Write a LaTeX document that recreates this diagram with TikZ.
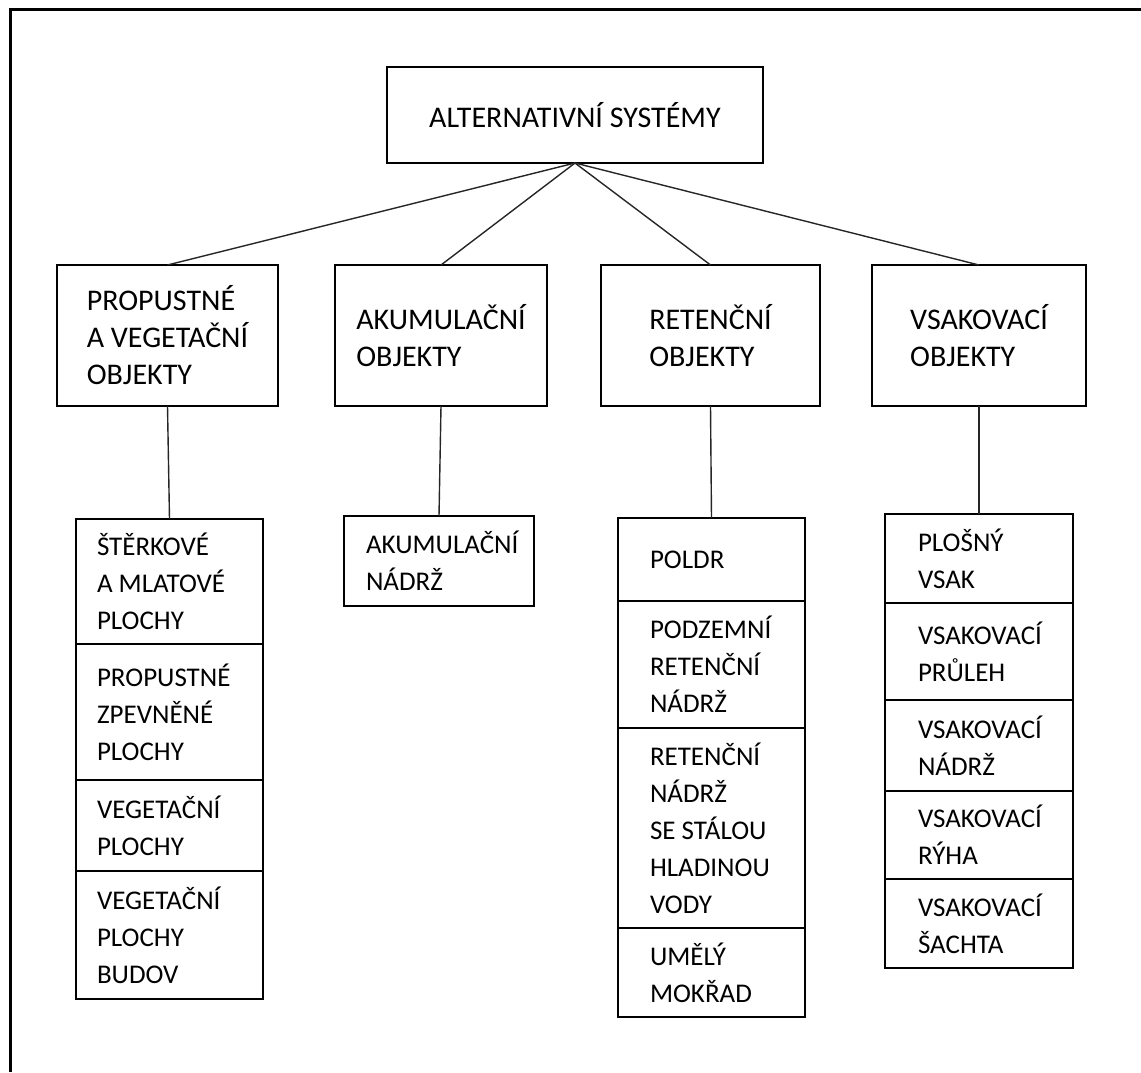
\documentclass[tikz,border=0pt]{standalone}
\usepackage{fontspec}
\setmainfont{Carlito}
\usepackage{tikz}
\usetikzlibrary{positioning}

\tikzset{
  box/.style={draw, line width=2.2pt, outer sep=0pt, anchor=north west, align=left, font=\fontsize{30}{37}\selectfont},
  leaf/.style 2 args={draw, line width=2.2pt, outer sep=0pt, inner xsep=0pt, inner ysep=0pt, text width=#1, minimum height=#2, align=flush left, font=\fontsize{27}{37}\selectfont},
  lpad/.style={execute at begin node={\leftskip=#1\relax}},
  link/.style={line width=1.4pt, draw=black!85}
}

\begin{document}
\begin{tikzpicture}[x=1pt, y=-1pt]
\useasboundingbox (0,0) rectangle (1141,1072);
\draw[line width=3pt] (10,1072) -- (10,9) -- (1141,9);

\node[box, align=center, minimum width=376pt, minimum height=96pt] (root) at (387,67) {ALTERNATIVNÍ SYSTÉMY};

\node[box, minimum width=221pt, minimum height=141pt] (p1) at (57,265) {PROPUSTNÉ\\A VEGETAČNÍ\\OBJEKTY};
\node[box, minimum width=212pt, minimum height=141pt] (p2) at (335,265) {AKUMULAČNÍ\\OBJEKTY};
\node[box, minimum width=219pt, minimum height=141pt] (p3) at (601,265) {RETENČNÍ\\OBJEKTY};
\node[box, minimum width=214pt, minimum height=141pt] (p4) at (872,265) {VSAKOVACÍ\\OBJEKTY};

% propustne a vegetacni
\node[leaf={187pt}{125pt}, lpad=21pt, anchor=north west] (s1a) at (76,519) {ŠTĚRKOVÉ\\A MLATOVÉ\\PLOCHY};
\node[leaf={187pt}{136pt}, lpad=21pt, below=0pt of s1a] (s1b) {PROPUSTNÉ\\ZPEVNĚNÉ\\PLOCHY};
\node[leaf={187pt}{91pt}, lpad=21pt, below=0pt of s1b] (s1c) {VEGETAČNÍ\\PLOCHY};
\node[leaf={187pt}{128pt}, lpad=21pt, below=0pt of s1c] (s1d) {VEGETAČNÍ\\PLOCHY\\BUDOV};

% akumulacni
\node[leaf={190pt}{90pt}, lpad=22pt, anchor=north west] (s2a) at (344,516) {AKUMULAČNÍ\\NÁDRŽ};

% retencni
\node[leaf={187pt}{83pt}, lpad=32pt, anchor=north west] (s3a) at (618,518) {POLDR};
\node[leaf={187pt}{127pt}, lpad=32pt, below=0pt of s3a] (s3b) {PODZEMNÍ\\RETENČNÍ\\NÁDRŽ};
\node[leaf={187pt}{200pt}, lpad=32pt, below=0pt of s3b] (s3c) {RETENČNÍ\\NÁDRŽ\\SE STÁLOU\\HLADINOU\\VODY};
\node[leaf={187pt}{89pt}, lpad=32pt, below=0pt of s3c] (s3d) {UMĚLÝ\\MOKŘAD};

% vsakovaci
\node[leaf={188pt}{89pt}, lpad=33pt, anchor=north west] (s4a) at (885,514) {PLOŠNÝ\\VSAK};
\node[leaf={188pt}{97pt}, lpad=33pt, below=0pt of s4a] (s4b) {VSAKOVACÍ\\PRŮLEH};
\node[leaf={188pt}{91pt}, lpad=33pt, below=0pt of s4b] (s4c) {VSAKOVACÍ\\NÁDRŽ};
\node[leaf={188pt}{88pt}, lpad=33pt, below=0pt of s4c] (s4d) {VSAKOVACÍ\\RÝHA};
\node[leaf={188pt}{89pt}, lpad=33pt, below=0pt of s4d] (s4e) {VSAKOVACÍ\\ŠACHTA};

\foreach \p in {p1,p2,p3,p4}
  \draw[link] (root.south) -- (\p.north);
\foreach \p/\s in {p1/s1a, p2/s2a, p3/s3a, p4/s4a}
  \draw[link] (\p.south) -- (\s.north);
\end{tikzpicture}
\end{document}
